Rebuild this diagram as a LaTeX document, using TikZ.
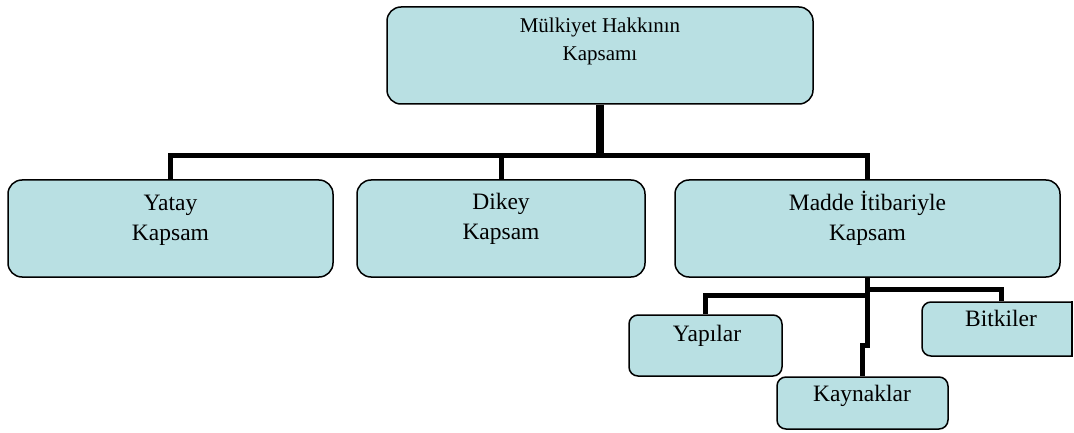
\documentclass[tikz,border=0pt]{standalone}
\usepackage{fontspec}
\setmainfont{Liberation Serif}
\definecolor{boxfill}{RGB}{185,224,227}
\tikzset{
  box/.style={draw=black, line width=1.5pt, fill=boxfill, rounded corners=14pt, inner sep=0pt},
  sbox/.style={box, rounded corners=9pt},
  conn/.style={draw=black, line width=5pt, line join=miter},
  txt/.style={align=center, inner sep=0pt, anchor=base, font=\fontsize{23.5}{30}\selectfont},
  ttxt/.style={txt, font=\fontsize{21}{28.7}\selectfont}
}
\begin{document}
\begin{tikzpicture}[x=1pt,y=-1pt]
\useasboundingbox (0,0) rectangle (1074,433);
% boxes
\node[box, minimum width=426pt, minimum height=97pt] (top) at (600,55.5) {};
\node[box, minimum width=325pt, minimum height=97pt] (yatay) at (170.5,228.5) {};
\node[box, minimum width=288pt, minimum height=97pt] (dikey) at (501,228.5) {};
\node[box, minimum width=385pt, minimum height=97pt] (madde) at (867.5,228.5) {};
\node[sbox, minimum width=153pt, minimum height=61pt] (yapilar) at (705.5,345.5) {};
\node[sbox, minimum width=171pt, minimum height=52pt] (kaynaklar) at (862.5,403) {};
\begin{scope}
  \clip (0,0) rectangle (1072.5,433);
  \node[sbox, minimum width=158pt, minimum height=54pt] (bitkiler) at (1001,329) {};
\end{scope}
\draw[line width=1.5pt] (bitkiler.north -| 1072,0) -- (bitkiler.south -| 1072,0);
% connectors
\coordinate (bus) at (600,155.5);
\draw[conn, line width=8pt] (top.south) -- (bus);
\draw[conn] (yatay.north) |- (bus) -| (madde.north);
\draw[conn] (bus -| dikey.north) -- (dikey.north);
\draw[conn] (madde.south) -- (madde.south |- 0,345) -| (kaynaklar.north);
\draw[conn] (madde.south |- 0,295) -| (yapilar.north);
\draw[conn] (madde.south |- 0,289) -| (bitkiler.north);
% texts (base anchor = baseline of the last line)
\node[ttxt] (topT) at (600,61) {Mülkiyet Hakkının\\Kapsamı};
\node[txt] (yatayT) at (170.5,240) {Yatay\\Kapsam};
\node[txt] (dikeyT) at (501,239) {Dikey\\Kapsam};
\node[txt] (maddeT) at (867.5,240) {Madde İtibariyle\\Kapsam};
\node[txt] (yapilarT) at (707,341) {Yapılar};
\node[txt] (kaynaklarT) at (862,401.5) {Kaynaklar};
\node[txt] (bitkilerT) at (1001,326.5) {Bitkiler};
\end{tikzpicture}
\end{document}
